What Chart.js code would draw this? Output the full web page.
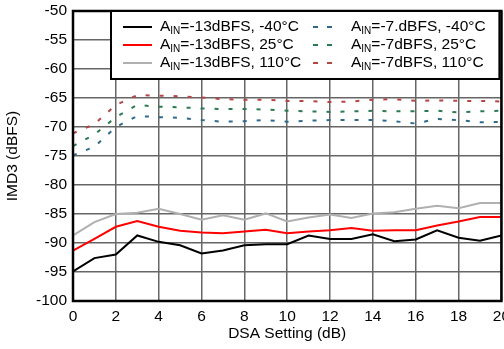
<!DOCTYPE html>
<html>
<head>
<meta charset="utf-8">
<script src="https://cdn.jsdelivr.net/npm/chart.js@4"></script>
<style>
  html, body { margin: 0; padding: 0; background: #fff; overflow: hidden; }
  #wrap { width: 516px; height: 349px; }
</style>
</head>
<body>
<div id="wrap"><canvas id="chart"></canvas></div>
<script>
// DSA setting (dB)
const dsa = [0, 1, 2, 3, 4, 5, 6, 7, 8, 9, 10, 11, 12, 13, 14, 15, 16, 17, 18, 19, 20];

// IMD3 (dBFS), AIN = -13 dBFS
const low_m40 = [-94.9, -92.6, -92.0, -88.7, -89.8, -90.4, -91.8, -91.3, -90.4, -90.2, -90.2, -88.7, -89.3, -89.3, -88.5, -89.7, -89.4, -87.8, -89.1, -89.6, -88.7];
const low_25 = [-91.3, -89.3, -87.2, -86.2, -87.2, -87.9, -88.2, -88.3, -88.0, -87.7, -88.3, -88.0, -87.8, -87.4, -87.9, -87.8, -87.8, -87.0, -86.3, -85.5, -85.5];
const low_110 = [-88.7, -86.4, -85.0, -84.8, -84.1, -85.0, -86.0, -85.2, -86.0, -84.9, -86.3, -85.6, -85.1, -85.7, -84.9, -84.7, -84.1, -83.6, -84.0, -83.1, -83.1];

// IMD3 (dBFS), AIN = -7 dBFS
const high_m40 = [-74.9, -73.4, -70.0, -68.1, -68.3, -68.4, -68.8, -69.1, -69.0, -68.8, -69.1, -68.9, -68.8, -68.8, -68.8, -69.0, -69.4, -68.6, -68.8, -69.2, -69.1];
const high_25 = [-73.3, -71.3, -68.3, -66.2, -66.5, -66.6, -66.8, -66.9, -66.9, -67.0, -67.2, -67.3, -67.4, -67.3, -67.2, -67.3, -67.3, -67.2, -67.5, -67.3, -67.2];
const high_110 = [-71.1, -69.5, -66.2, -64.5, -64.6, -64.7, -64.9, -65.2, -65.3, -65.3, -65.5, -65.5, -65.7, -65.6, -65.3, -65.2, -65.5, -65.4, -65.5, -65.5, -65.6];

// legend labels, "_IN" marks the subscript
const labels = [
  'A_IN=-13dBFS, -40°C',
  'A_IN=-13dBFS, 25°C',
  'A_IN=-13dBFS, 110°C',
  'A_IN=-7.dBFS, -40°C',
  'A_IN=-7dBFS, 25°C',
  'A_IN=-7dBFS, 110°C'
];

const FONT = 'Arial, "Liberation Sans", sans-serif';

function series(values, i, color, dashed) {
  return {
    label: labels[i],
    data: values.map((v, k) => ({ x: dsa[k], y: v })),
    borderColor: color,
    borderWidth: 2,
    borderDash: dashed ? [4, 10] : [],
    pointRadius: 0,
    tension: 0,
    fill: false
  };
}

// thick frame round the plot area
const frame = {
  id: 'frame',
  afterDatasetsDraw(chart) {
    const { ctx, chartArea: a } = chart;
    ctx.save();
    ctx.strokeStyle = '#000';
    ctx.lineWidth = 2.5;
    ctx.strokeRect(a.left, a.top, a.right - a.left, a.bottom - a.top);
    ctx.restore();
  }
};

// boxed legend with subscript text
const legendBox = {
  id: 'legendBox',
  afterDraw(chart) {
    const ctx = chart.ctx;
    const a = chart.chartArea;
    const bx = a.left + 38, by = a.top, bw = a.right - bx - 2, bh = 68;
    ctx.save();
    ctx.fillStyle = '#fff';
    ctx.fillRect(bx, by, bw, bh);
    ctx.strokeStyle = '#000';
    ctx.lineWidth = 2;
    ctx.strokeRect(bx, by, bw, bh);

    chart.data.datasets.forEach((ds, i) => {
      const col = Math.floor(i / 3), row = i % 3;
      const y = by + 16 + row * 18;
      const sx = col === 0 ? bx + 12 : bx + 202;
      const sw = col === 0 ? 29 : 20;
      const tx = col === 0 ? bx + 49 : bx + 240;

      ctx.strokeStyle = ds.borderColor;
      ctx.lineWidth = 2;
      ctx.setLineDash(col === 0 ? [] : [5, 9]);
      ctx.beginPath();
      ctx.moveTo(sx, y);
      ctx.lineTo(sx + sw, y);
      ctx.stroke();
      ctx.setLineDash([]);

      const parts = ds.label.split('_IN');
      ctx.fillStyle = '#000';
      ctx.textBaseline = 'middle';
      ctx.font = '15.5px ' + FONT;
      let x = tx;
      ctx.fillText(parts[0], x, y);
      x += ctx.measureText(parts[0]).width;
      ctx.font = '10px ' + FONT;
      ctx.fillText('IN', x, y + 4);
      x += ctx.measureText('IN').width;
      ctx.font = '15.5px ' + FONT;
      ctx.fillText(parts[1], x, y);
    });
    ctx.restore();
  }
};

new Chart(document.getElementById('chart'), {
  type: 'line',
  data: {
    datasets: [
      series(low_m40, 0, '#000000', false),
      series(low_25, 1, '#ff0000', false),
      series(low_110, 2, '#b0b0b0', false),
      series(high_m40, 3, '#2f6a8c', true),
      series(high_25, 4, '#2a7a52', true),
      series(high_110, 5, '#b54545', true)
    ]
  },
  options: {
    responsive: true,
    maintainAspectRatio: false,
    animation: false,
    layout: { padding: { top: 11, left: 0, right: 0, bottom: 0 } },
    plugins: { legend: { display: false }, tooltip: { enabled: false } },
    scales: {
      x: {
        type: 'linear',
        min: 0,
        max: 20,
        ticks: { stepSize: 2, color: '#000', padding: 6, font: { family: FONT, size: 15.5 } },
        grid: { color: '#666', lineWidth: 1.5, drawTicks: false },
        border: { display: false },
        title: { display: true, text: 'DSA Setting (dB)', color: '#000', padding: { top: 0, bottom: 6 }, font: { family: FONT, size: 15.5 } },
        afterFit(scale) { scale.height = 48; }
      },
      y: {
        min: -100,
        max: -50,
        ticks: { stepSize: 5, color: '#000', padding: 6, font: { family: FONT, size: 15.5 } },
        grid: { color: '#666', lineWidth: 1.5, drawTicks: false },
        border: { display: false },
        title: { display: true, text: 'IMD3 (dBFS)', color: '#000', padding: { top: 3, bottom: 0 }, font: { family: FONT, size: 15.5 } },
        afterFit(scale) {
          scale.width = 73;
          scale.paddingTop = 0;
          scale.paddingBottom = 0;
        }
      }
    }
  },
  plugins: [frame, legendBox]
});
</script>
</body>
</html>
